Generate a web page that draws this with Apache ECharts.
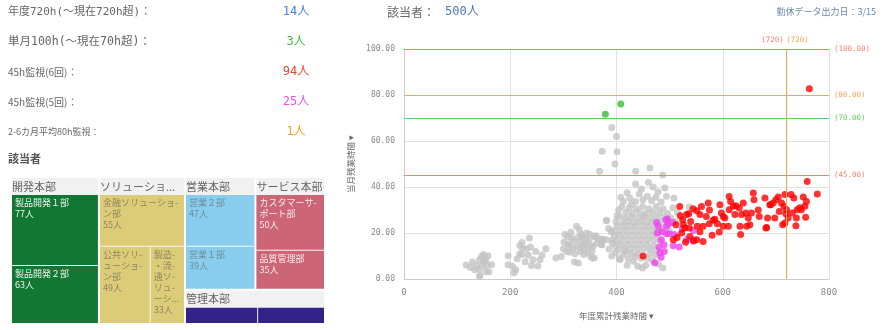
<!DOCTYPE html>
<html>
<head>
    <meta charset="utf-8">
    <title>残業時間</title>
    <script src="https://cdn.jsdelivr.net/npm/echarts@6/dist/echarts.min.js"></script>
    <style>
        *{margin: 0;padding: 0;}
        body{background: #fff;}
    </style>
</head>
<body>
    <div id="main" style="width: 884px;height:330px;"></div>
    <script type="text/javascript">
        // 集計（左上）
        var summaryLabels = ['年度720h(～現在720h超)：', '単月100h(～現在70h超)：', '45h監視(6回)：', '45h監視(5回)：', '2-6カ月平均80h監視：'];
        var summaryCounts = [14, 3, 94, 25, 1];
        var totalCount = 500;
        var exportDate = '3/15';

        // 部署ツリー
        var groupNames = ['開発本部', 'ソリューション本部', '営業本部', 'サービス本部', '管理本部'];
        var deptNames = [
            ['製品開発１部', '製品開発２部'],
            ['金融ソリューション部', '公共ソリューション部', '製造・流通ソリューション部'],
            ['営業２部', '営業１部'],
            ['カスタマーサポート部', '品質管理部'],
            ['総務部', '人事部']
        ];
        var deptCounts = [
            [77, 63],
            [55, 49, 33],
            [47, 39],
            [50, 35],
            [27, 25]
        ];

        // 散布図 [年度累計, 当月]
        var grayPoints = [
            [117,6.1],[125,5.0],[129,7.4],[133,4.0],[137,5.9],[141,4.2],[142,8.4],[143,1.6],[146,9.8],[147,5.7],
            [150,7.4],[151,9.9],[154,8.0],[154,3.2],[156,6.0],[158,10.1],[160,3.2],[165,6.2],[149,10.6],[142,1.1],
            [196,10.1],[196,6.2],[204,5.5],[207,2.7],[210,4.0],[213,8.8],[218,14.6],[218,11.0],[222,15.9],[222,10.6],
            [223,13.5],[228,7.5],[231,13.2],[234,10.3],[236,17.8],[238,13.9],[240,5.9],[243,8.4],[248,12.0],[252,5.6],
            [256,8.4],[260,10.4],[267,13.2],
            [286,9.1],[296,9.8],[300,13.2],[301,16.1],[303,19.3],[306,12.0],[308,18.5],[309,15.2],[311,14.6],[312,11.6],
            [314,20.3],[316,17.8],[318,13.5],[320,16.5],[321,7.4],[322,11.0],[325,22.9],[326,14.0],[328,7.0],[328,18.2],
            [330,21.4],[331,16.3],[332,12.0],[333,13.6],[334,19.5],[336,18.5],[337,15.0],[338,10.6],[339,12.8],[341,15.6],
            [342,17.5],[344,20.0],[345,11.5],[347,13.5],[348,16.8],[350,19.3],[351,9.8],[352,14.5],[354,12.2],[356,14.2],
            [358,9.1],[359,18.5],[361,18.8],[363,15.5],[365,17.5],[372,14.9],[373,17.4],[375,17.1],[381,17.1],[381,25.5],
            [368,46.8],[373,55.5],[391,65.9],[400,62.0],[401,55.3],[397,50.0],[436,46.8],[463,48.3],[487,45.2],
            [436,41.3],[447,39.1],[460,42.0],[469,40.0],[491,39.6],[478,37.8],
            [408,35.5],[413,33.7],[425,35.2],[436,33.7],[443,37.0],[450,34.5],[458,36.0],[466,34.0],[474,35.5],[484,33.5],
            [494,36.0],[508,35.2],[420,37.5],
            [404,30.0],[410,31.5],[418,29.0],[424,31.0],[430,28.5],[437,30.5],[443,29.0],[449,31.5],[455,28.5],[461,30.5],
            [468,29.0],[475,31.5],[481,29.0],[488,30.5],[496,28.5],[506,31.0],[515,28.8],[537,31.3],[401,27.5],[428,32.5],
            [452,27.5],
            [381,25.3],[399,25.0],[406,27.2],[412,24.5],[417,26.5],[423,25.0],[429,27.0],[434,24.5],[440,26.5],[446,25.0],
            [452,26.8],[458,24.5],[464,26.5],[470,25.0],[476,27.0],[483,25.0],[489,27.0],[495,24.8],[502,26.5],[510,25.0],
            [385,22.0],[394,21.0],[401,23.0],[407,21.0],[413,23.0],[419,21.2],[425,23.2],[431,21.0],[437,23.0],[443,21.0],
            [449,23.0],[455,21.3],[461,23.0],[467,21.0],[473,22.5],[479,20.5],[486,22.0],[499,21.0],[390,20.5],
            [365,17.5],[359,18.5],[374,17.1],[392,17.0],[400,16.3],[405,19.0],[411,17.0],[417,19.0],[423,17.0],[429,19.0],
            [435,17.0],[441,19.0],[447,17.0],[453,19.0],[459,17.0],[465,19.0],[471,17.0],[476,19.0],[482,16.5],[396,19.0],
            [372,14.9],[386,13.0],[398,14.5],[403,12.7],[409,14.8],[415,13.0],[421,15.0],[427,13.0],[433,15.0],[439,13.0],
            [445,15.0],[451,13.0],[457,15.0],[463,13.0],[469,14.5],[475,12.5],[392,15.5],
            [355,9.1],[391,10.0],[405,9.0],[407,8.4],[413,10.5],[422,8.8],[428,11.0],[435,9.8],[441,11.0],[446,9.0],
            [458,9.0],[463,11.0],[468,8.0],[474,10.5],[398,11.5],[417,12.0],
            [432,7.7],[440,5.5],[455,6.0],[487,4.8],[420,6.0],[449,4.8],[479,6.5]
        ];
        var magentaPoints = [
            [472,7.1],[475.6,24.6],[477,20.0],[478.6,22.9],[480,13.9],[481.8,11.3],[484,9.5],[484.4,17.1],[489.4,14.9],[493,25.8],
            [494,19.7],[494,22.9],[496,26.1],[497.4,23.9],[499,19.7],[505.6,24.6],[506.8,14.5],[508.8,19.3],[518,13.9],[524,21.7],
            [532,17.1],[544.5,21.1],[544.5,17.1],[486,20.5],[490,12.0]
        ];
        var redPoints = [
            [450,10.0],[507,17.1],[512,23.6],[514,18.0],[519,31.5],[522.6,20.0],[524.5,25.8],[526,23.6],[529,22.2],[532,28.0],
            [536,28.4],[537,22.2],[538,18.5],[539.6,25.0],[544,30.5],[551,17.1],[551,29.7],[552,22.9],[557,20.5],[563,16.3],
            [563,22.9],[569,27.2],[572.7,33.0],[574.6,24.0],[580,19.0],[585,26.0],[593.5,20.4],[594.7,32.3],[597.5,28.7],[601,22.9],
            [604,26.5],[610.5,22.9],[612,35.9],[612,30.1],[614.8,33.7],[619.8,31.6],[623,28.0],[631,30.9],[632.4,22.9],[633.6,19.3],
            [635.6,28.0],[638.6,33.0],[643.6,28.7],[645,22.9],[648,26.5],[654,28.7],[657.5,37.4],[658.8,34.5],[668.7,27.2],[679.4,35.2],
            [681.3,22.2],[684.4,26.5],[690,32.3],[695,33.0],[698,26.5],[700,34.5],[704.5,35.7],[706.4,29.4],[710.7,33.0],[712.7,23.6],
            [715,31.6],[717,36.7],[717,24.3],[718.7,28.4],[720,30.1],[723,26.5],[728.7,36.7],[731,28.7],[733.8,35.2],[737.7,23.2],
            [738.6,26.5],[740,30.1],[748,30.1],[751.6,35.7],[754.5,31.6],[757.6,33.7],[759,42.4],[763,82.7],[778,37.0],
            [651,23.6],[682.6,22.4],[756,26.8],[666.8,30.0],[688.7,32.3],[624.8,31.9],[582,25.5],[601,27.2],[557,28.0],
            [745,31.0],[530,16.0],[545,16.5],[520,27.5],[560,31.5],[575,30.0],[590,24.0]
        ];
        var greenPoints = [[379,71.6],[408,76.1]];

        // 基準線
        var hLines = [100, 80, 70, 45];
        var vLines = [720, 720];

        var COLORS = {
            red: '#f4806c', orange: '#f5a454', green: '#5fcf5f',
            countColors: ['#4f7fdf', '#3fbf3f', '#f0452f', '#ee4fe0', '#f5a030'],
            groups: ['#117733', '#DDCC77', '#88CCEE', '#CC6677', '#332288'],
            groupText: ['#eef5ee', '#8f8460', '#6f8b9a', '#fbecee', '#ffffff']
        };
        var hLineColors = [COLORS.red, COLORS.orange, COLORS.green, COLORS.red];
        var vLineColors = [COLORS.red, COLORS.orange];

        // ラベル折り返し（文字数）
        var wrapChars = {'金融ソリューション部': 8, '公共ソリューション部': 4, '製造・流通ソリューション部': 2, 'カスタマーサポート部': 6};
        function wrapName(name) {
            var n = wrapChars[name];
            if (!n) return name;
            var lines = [];
            for (var i = 0; i < name.length; i += n) lines.push(name.slice(i, i + n));
            var out = lines.map(function (l, i) { return i < lines.length - 1 ? l + '-' : l; });
            if (out.length > 5) {
                out = out.slice(0, 5);
                out[4] = lines[4] + '...';
            }
            return out.join('\n');
        }

        var MONO = '"DejaVu Sans Mono", "Noto Sans CJK JP", monospace';
        var SANS = '"Noto Sans CJK JP", sans-serif';

        var treeData = groupNames.map(function (g, gi) {
            return {
                name: g,
                children: deptNames[gi].map(function (d, di) {
                    return {
                        name: d,
                        value: deptCounts[gi][di],
                        itemStyle: {color: COLORS.groups[gi]},
                        label: {show: gi < 4, color: COLORS.groupText[gi]}
                    };
                })
            };
        });

        var summaryFonts = ['11px ' + MONO, '11.5px ' + MONO, '10px ' + SANS, '10px ' + SANS, '9px ' + SANS];
        var summaryY = [12, 42, 72, 102, 132];
        var graphics = [];
        summaryLabels.forEach(function (t, i) {
            graphics.push({type: 'text', x: 8, y: summaryY[i],
                style: {text: t, font: summaryFonts[i], fill: '#666', textVerticalAlign: 'middle'}});
            graphics.push({type: 'text', x: 296, y: summaryY[i],
                style: {text: summaryCounts[i] + '人', font: '12px ' + MONO, fill: COLORS.countColors[i], textAlign: 'center', textVerticalAlign: 'middle'}});
        });
        graphics.push({type: 'text', x: 8, y: 159, style: {text: '該当者', font: 'bold 11px ' + SANS, fill: '#555', textVerticalAlign: 'middle'}});
        graphics.push({type: 'text', x: 387, y: 12, style: {text: '該当者：', font: '12px ' + SANS, fill: '#666', textVerticalAlign: 'middle'}});
        graphics.push({type: 'text', x: 445, y: 12, style: {text: totalCount + '人', font: '12px ' + MONO, fill: '#4a78b8', textVerticalAlign: 'middle'}});
        graphics.push({type: 'text', x: 876, y: 12, style: {text: '勤休データ出力日：' + exportDate, font: '9px ' + SANS, fill: '#6a88b0', textAlign: 'right', textVerticalAlign: 'middle'}});

        var markData = hLines.map(function (v, i) {
            return {yAxis: v, lineStyle: {color: hLineColors[i]},
                label: {formatter: '(' + v.toFixed(2) + ')', color: hLineColors[i]}};
        }).concat(vLines.map(function (v, i) {
            return {xAxis: v, lineStyle: {color: vLineColors[i]},
                label: {formatter: '(' + v + ')', color: vLineColors[i], padding: i === 0 ? [0, 28, 0, 0] : [0, 0, 0, 22]}};
        }));

        var myChart = echarts.init(document.getElementById('main'));
        var option = {
            animation: false,
            graphic: graphics,
            grid: {left: 404, right: 55, top: 49, bottom: 51},
            xAxis: {
                type: 'value', min: 0, max: 800, interval: 200,
                name: '年度累計残業時間 ▾', nameLocation: 'middle', nameGap: 33,
                nameTextStyle: {color: '#666', fontSize: 8.5, fontFamily: SANS},
                axisLine: {show: true, lineStyle: {color: '#ccc'}},
                axisTick: {show: false},
                axisLabel: {color: '#888', fontSize: 9, fontFamily: MONO, margin: 9},
                splitLine: {lineStyle: {color: '#e2e2e2'}}
            },
            yAxis: {
                type: 'value', min: 0, max: 100, interval: 20,
                name: '当月残業時間 ▾', nameLocation: 'middle', nameGap: 49,
                nameTextStyle: {color: '#666', fontSize: 8.5, fontFamily: SANS},
                axisLine: {show: true, lineStyle: {color: '#ccc'}},
                axisTick: {show: false},
                axisLabel: {color: '#888', fontSize: 8, fontFamily: MONO, margin: 9,
                    formatter: function (v) { return v.toFixed(2); }},
                splitLine: {lineStyle: {color: '#e2e2e2'}}
            },
            series: [
                {
                    type: 'treemap',
                    left: 12, top: 178, width: 312, height: 145,
                    roam: false, nodeClick: false, squareRatio: 1,
                    breadcrumb: {show: false},
                    label: {show: true, position: 'insideTopLeft', fontSize: 9, lineHeight: 11,
                        fontFamily: SANS, padding: [2, 3], overflow: 'none',
                        formatter: function (p) { return wrapName(p.name) + '\n' + p.value + '人'; }},
                    upperLabel: {show: true, height: 17, color: '#666', fontSize: 11, fontFamily: SANS},
                    levels: [
                        {itemStyle: {borderWidth: 0, gapWidth: 2, borderColor: '#fff'}, upperLabel: {show: false}},
                        {itemStyle: {borderWidth: 0, gapWidth: 1, borderColor: '#f1f1f1'}},
                        {itemStyle: {borderWidth: 0}}
                    ],
                    data: treeData
                },
                {
                    type: 'scatter', symbolSize: 7,
                    itemStyle: {color: '#c4c4c4'},
                    data: grayPoints,
                    markLine: {
                        silent: true, symbol: 'none',
                        lineStyle: {type: 'solid', width: 1},
                        label: {position: 'end', fontSize: 7.5, fontFamily: MONO},
                        data: markData
                    }
                },
                {type: 'scatter', symbolSize: 7, itemStyle: {color: '#ee44ee'}, data: magentaPoints},
                {type: 'scatter', symbolSize: 7, itemStyle: {color: '#ff0000'}, data: redPoints},
                {type: 'scatter', symbolSize: 7, itemStyle: {color: '#33c033'}, data: greenPoints}
            ]
        };
        myChart.setOption(option);
    </script>
</body>
</html>
